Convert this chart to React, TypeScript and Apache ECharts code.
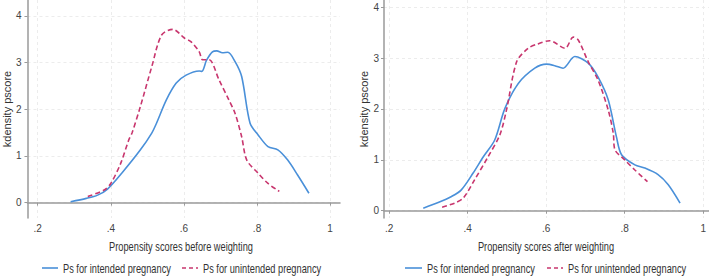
import React, { useEffect, useRef } from "react";
import * as echarts from "echarts";

// Before weighting
const beforeIntendedX = [0.29, 0.333, 0.364, 0.391, 0.431, 0.481, 0.512, 0.525, 0.552, 0.579, 0.606, 0.642, 0.649, 0.662, 0.678, 0.69, 0.705, 0.72, 0.74, 0.758, 0.781, 0.803, 0.83, 0.857, 0.884, 0.911, 0.942];
const beforeIntendedY = [0.02, 0.09, 0.16, 0.29, 0.64, 1.13, 1.49, 1.7, 2.2, 2.56, 2.73, 2.82, 2.81, 3.05, 3.23, 3.25, 3.21, 3.22, 3.02, 2.7, 1.7, 1.45, 1.2, 1.13, 0.91, 0.59, 0.2];
const beforeUnintendedX = [0.337, 0.382, 0.4, 0.427, 0.449, 0.458, 0.481, 0.512, 0.539, 0.57, 0.602, 0.619, 0.642, 0.651, 0.669, 0.696, 0.723, 0.74, 0.758, 0.772, 0.803, 0.83, 0.861];
const beforeUnintendedY = [0.13, 0.27, 0.41, 0.84, 1.34, 1.49, 2.06, 2.91, 3.59, 3.71, 3.52, 3.45, 3.23, 3.06, 3.06, 2.63, 2.2, 1.91, 1.41, 0.91, 0.63, 0.41, 0.24];

// After weighting
const afterIntendedX = [0.287, 0.325, 0.359, 0.384, 0.414, 0.44, 0.469, 0.495, 0.529, 0.571, 0.601, 0.622, 0.643, 0.673, 0.707, 0.732, 0.758, 0.779, 0.792, 0.826, 0.851, 0.885, 0.911, 0.941];
const afterIntendedY = [0.05, 0.16, 0.28, 0.41, 0.74, 1.06, 1.39, 2.01, 2.5, 2.8, 2.88, 2.85, 2.8, 3.03, 2.9, 2.63, 2.18, 1.45, 1.1, 0.9, 0.84, 0.71, 0.51, 0.15];
const afterUnintendedX = [0.335, 0.367, 0.389, 0.418, 0.452, 0.482, 0.499, 0.525, 0.554, 0.576, 0.609, 0.648, 0.669, 0.682, 0.707, 0.732, 0.758, 0.771, 0.775, 0.8, 0.826, 0.858];
const afterUnintendedY = [0.07, 0.15, 0.25, 0.61, 1.06, 1.49, 1.98, 2.93, 3.19, 3.27, 3.34, 3.19, 3.41, 3.35, 2.93, 2.57, 1.98, 1.52, 1.2, 1.0, 0.8, 0.57];

const xTicks = [0.2, 0.4, 0.6, 0.8, 1];
const yTicks = [0, 1, 2, 3, 4];
const xTitles = ["Propensity scores before weighting", "Propensity scores after weighting"];
const yTitle = "kdensity pscore";
const seriesNames = ["Ps for intended pregnancy", "Ps for unintended pregnancy"];

const BLUE = "#4a90d9";
const RED = "#c8366e";
const FONT = "'Liberation Sans', Arial, sans-serif";
const SQUEEZE = 0.74;

const zip = (xs: number[], ys: number[]) => xs.map((x, i) => [x, ys[i]]);
const fmt = (v: number) => (v === 0 ? "0" : v === 1 ? "1" : String(v).replace(/^0/, ""));

const squeezedText = (text: string, x: number, y: number, align: string) => ({
  type: "text",
  x,
  y,
  scaleX: SQUEEZE,
  silent: true,
  style: {
    text,
    x: 0,
    y: 0,
    textAlign: align,
    textVerticalAlign: "middle",
    fontFamily: FONT,
    fontSize: 12.5,
    fill: "#333",
  },
});

const legendLine = (x1: number, x2: number, y: number, color: string, dashed: boolean) => ({
  type: "line",
  silent: true,
  shape: { x1, y1: y, x2, y2: y },
  style: { stroke: color, lineWidth: 1.6, lineDash: dashed ? [4, 3] : null },
});

export default function App() {
  const ref = useRef<HTMLDivElement>(null);
  useEffect(() => {
    if (!ref.current) return;
    const chart = echarts.init(ref.current, undefined, { renderer: "svg" });
    const mkX = (idx: number, min: number, max: number) => ({
      type: "value",
      gridIndex: idx,
      min,
      max,
      axisLine: { show: true, lineStyle: { color: "#9a9a9a", width: 1.5 } },
      axisTick: { show: true, length: 3, customValues: xTicks, lineStyle: { color: "#9a9a9a" } },
      axisLabel: { customValues: xTicks, formatter: fmt, fontFamily: FONT, fontSize: 10, color: "#444", margin: 5 },
      splitLine: { show: true, lineStyle: { color: "#ececec", type: [3, 3] } },
    });
    const mkY = (idx: number, min: number, max: number, margin: number) => ({
      type: "value",
      gridIndex: idx,
      min,
      max,
      name: yTitle,
      nameLocation: "middle",
      nameGap: 15,
      nameTextStyle: { fontFamily: FONT, fontSize: 11, color: "#333" },
      axisLine: { show: true, lineStyle: { color: "#9a9a9a", width: 1.5 } },
      axisTick: { show: true, length: 3, customValues: yTicks, lineStyle: { color: "#9a9a9a" } },
      axisLabel: { customValues: yTicks, fontFamily: FONT, fontSize: 10, color: "#444", margin },
      splitLine: { show: true, lineStyle: { color: "#ececec", type: [3, 3] } },
    });
    const line = (name: string, idx: number, data: number[][], color: string, dashed: boolean) => ({
      type: "line",
      name,
      xAxisIndex: idx,
      yAxisIndex: idx,
      data,
      showSymbol: false,
      symbol: "none",
      smooth: 0.3,
      lineStyle: { color, width: 1.6, type: dashed ? [5, 3] : "solid" },
      itemStyle: { color },
    });
    chart.setOption({
      animation: false,
      grid: [
        { left: 22, top: 0, width: 318, height: 218 },
        { left: 384, top: 0, width: 325, height: 218 },
      ],
      xAxis: [mkX(0, 0.172, 1.027), mkX(1, 0.187, 1.0145)],
      yAxis: [mkY(0, -0.33, 4.34, 6), mkY(1, -0.143, 4.14, 5)],
      graphic: [
        squeezedText(xTitles[0], 181, 246, "center"),
        squeezedText(xTitles[1], 546, 246, "center"),
        legendLine(42, 58, 268, BLUE, false),
        squeezedText(seriesNames[0], 63, 268, "left"),
        legendLine(182, 198, 268, RED, true),
        squeezedText(seriesNames[1], 203, 268, "left"),
        legendLine(405, 422, 268, BLUE, false),
        squeezedText(seriesNames[0], 427, 268, "left"),
        legendLine(547, 563, 268, RED, true),
        squeezedText(seriesNames[1], 568, 268, "left"),
      ],
      series: [
        line(seriesNames[0], 0, zip(beforeIntendedX, beforeIntendedY), BLUE, false),
        line(seriesNames[1], 0, zip(beforeUnintendedX, beforeUnintendedY), RED, true),
        line(seriesNames[0], 1, zip(afterIntendedX, afterIntendedY), BLUE, false),
        line(seriesNames[1], 1, zip(afterUnintendedX, afterUnintendedY), RED, true),
      ],
    });
    return () => chart.dispose();
  }, []);
  return <div ref={ref} style={{ width: 709, height: 277, position: "absolute", left: 0, top: 0 }} />;
}
